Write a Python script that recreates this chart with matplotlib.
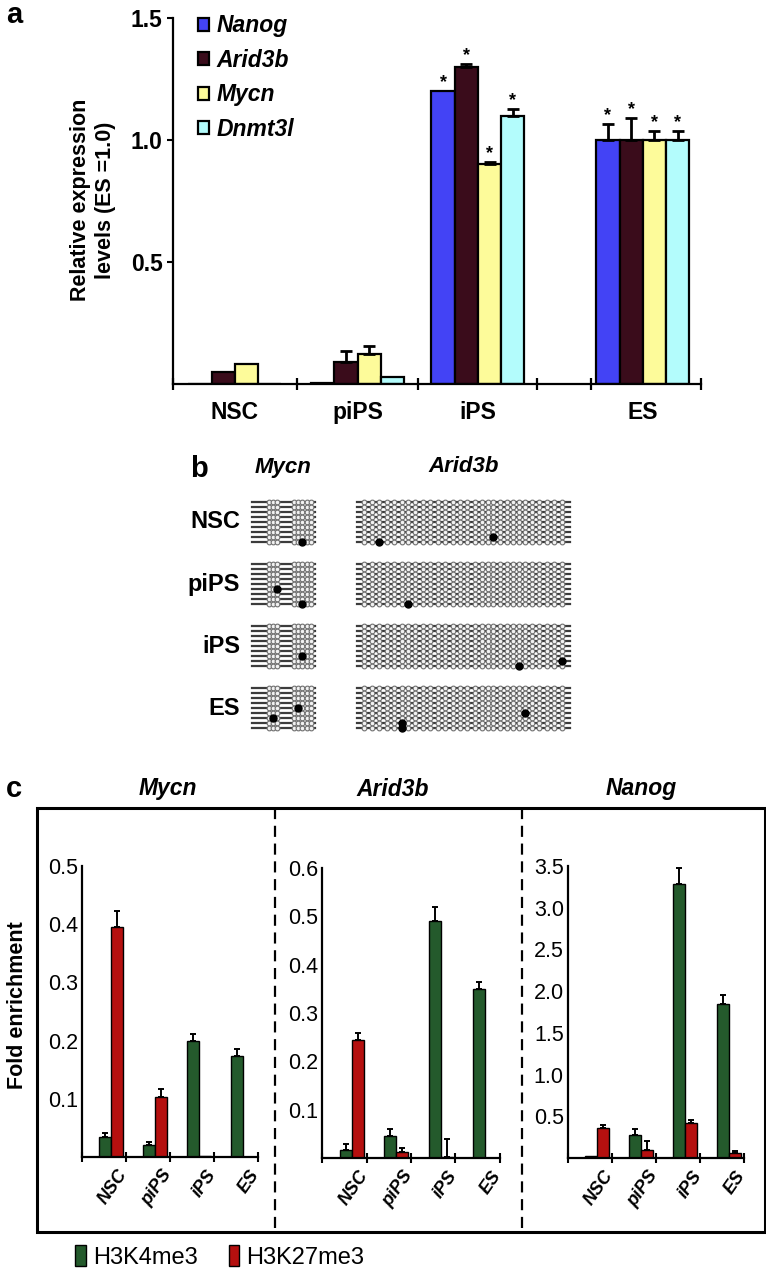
import matplotlib
matplotlib.use('Agg')
import matplotlib.pyplot as plt
from matplotlib.patches import Patch, Rectangle
from matplotlib.lines import Line2D
import numpy as np

plt.rcParams['font.family'] = ['Liberation Sans', 'DejaVu Sans']

W, H = 766, 1271

# ---------------- panel a: relative expression ----------------
cells = ['NSC', 'piPS', 'iPS', 'ES']
genes_a = ['Nanog', 'Arid3b', 'Mycn', 'Dnmt3l']
nanog_expr = [0.0, 0.005, 1.2, 1.0]
arid3b_expr = [0.05, 0.09, 1.3, 1.0]
mycn_expr = [0.08, 0.125, 0.9, 1.0]
dnmt3l_expr = [0.0, 0.03, 1.1, 1.0]
nanog_err = [0, 0, 0, 0.065]
arid3b_err = [0, 0.047, 0.012, 0.09]
mycn_err = [0, 0.032, 0.008, 0.035]
dnmt3l_err = [0, 0, 0.027, 0.035]
significant = [False, False, True, True]
colors_a = ['#4343f5', '#3a0c1b', '#fdfb9a', '#b3fcfc']

# ---------------- panel b: bisulfite clones ----------------
n_clones = 9
mycn_cpg = [17, 21, 25, 42, 46, 50, 55, 59]
mycn_len = 63
arid3b_cpg = [7, 15, 22, 30, 37, 45, 51, 58, 66, 73, 81, 88, 96, 103, 110,
              118, 125, 131, 136, 143, 150, 156, 162, 168, 175, 182, 190, 197, 205]
arid3b_len = 213
# methylated sites per cell type: (clone row, CpG index)
mycn_meth = [[(8, 5)], [(5, 2), (8, 5)], [(6, 5)], [(6, 1), (4, 4)]]
arid3b_meth = [[(8, 2), (7, 18)], [(8, 6)], [(8, 22), (7, 28)], [(7, 5), (8, 5), (5, 23)]]

# ---------------- panel c: ChIP fold enrichment ----------------
genes_c = ['Mycn', 'Arid3b', 'Nanog']
mycn_k4 = [0.035, 0.02, 0.2, 0.173]
mycn_k4_err = [0.006, 0.006, 0.011, 0.013]
mycn_k27 = [0.395, 0.103, 0.002, 0.0]
mycn_k27_err = [0.027, 0.013, 0, 0]
arid3b_k4 = [0.016, 0.045, 0.49, 0.35]
arid3b_k4_err = [0.014, 0.014, 0.03, 0.015]
arid3b_k27 = [0.244, 0.013, 0.003, 0.0]
arid3b_k27_err = [0.014, 0.007, 0.037, 0]
nanog_k4 = [0.02, 0.27, 3.29, 1.85]
nanog_k4_err = [0.0, 0.08, 0.19, 0.1]
nanog_k27 = [0.354, 0.1, 0.42, 0.06]
nanog_k27_err = [0.04, 0.1, 0.04, 0.02]
yticks_c = [[0.1, 0.2, 0.3, 0.4, 0.5],
            [0.1, 0.2, 0.3, 0.4, 0.5, 0.6],
            [0.5, 1.0, 1.5, 2.0, 2.5, 3.0, 3.5]]
ytop_c = [0.5, 0.6, 3.5]
marks = ['H3K4me3', 'H3K27me3']
colors_c = ['#245a2c', '#b5100f']


def px_box(left, top, right, bottom):
    return [left / W, 1 - bottom / H, (right - left) / W, (bottom - top) / H]


def fx(px):
    return px / W


def fy(py):
    return 1 - py / H


fig = plt.figure(figsize=(W / 100, H / 100), dpi=100)

# ===== panel a =====
ax = fig.add_axes(px_box(173, 18, 701, 384))
centers = np.array([0.5, 1.49, 2.46, 3.79])
width = 0.1875
series = [nanog_expr, arid3b_expr, mycn_expr, dnmt3l_expr]
errs = [nanog_err, arid3b_err, mycn_err, dnmt3l_err]
for i, (vals, err, col, name) in enumerate(zip(series, errs, colors_a, genes_a)):
    x = centers + (i - 1.5) * width
    vals = np.array(vals)
    e = np.array(err, dtype=float)
    ax.bar(x, vals, width, color=col, edgecolor='black', linewidth=1.6, label=name, zorder=2)
    m = e > 0
    ax.errorbar(x[m], vals[m], yerr=[np.zeros(m.sum()), e[m]], fmt='none', ecolor='black',
                elinewidth=2, capsize=4, capthick=2, zorder=3)
    for xi, v, ei, s in zip(x, vals, e, significant):
        if s:
            ax.annotate('*', (xi, v + ei), xytext=(0, 0), textcoords='offset points',
                        ha='center', va='bottom', fontsize=13, fontweight='bold')

ax.set_xlim(0, 4.26)
ax.set_ylim(0, 1.5)
ax.spines['top'].set_visible(False)
ax.spines['right'].set_visible(False)
ax.spines['left'].set_linewidth(1.6)
ax.spines['bottom'].set_linewidth(1.6)
ax.set_yticks([0.5, 1.0, 1.5])
ax.set_yticklabels(['0.5', '1.0', '1.5'], fontsize=16.5, fontweight='bold')
ax.tick_params(axis='y', direction='out', length=4, width=1.5)
ax.set_xticks([0, 1, 1.98, 2.94, 3.37, 4.26])
ax.set_xticklabels([])
ax.tick_params(axis='x', which='major', direction='inout', length=9, width=1.6)
ax.set_xticks(centers, minor=True)
ax.set_xticklabels(cells, minor=True, fontsize=16.5, fontweight='bold')
ax.tick_params(axis='x', which='minor', length=0, pad=12)
ax.legend(loc='upper left', bbox_to_anchor=(0.03, 1.035), frameon=False,
          prop=dict(weight='bold', style='italic', size=16.5), handlelength=0.5,
          handleheight=0.5, handletextpad=0.3, labelspacing=0.5, borderaxespad=0)
fig.text(fx(93), fy(200), 'Relative expression\nlevels (ES =1.0)', rotation=90,
         ha='center', va='center', fontsize=15.5, fontweight='bold', linespacing=1.2)
fig.text(fx(6), fy(1), 'a', fontsize=21, fontweight='bold', va='top')

# ===== panel b =====
axb = fig.add_axes(px_box(180, 455, 600, 740))
axb.set_xlim(-72, 348)
axb.set_ylim(285, 0)
axb.axis('off')
arid3b_start = 105
block_top, block_step, row_step = 47, 62, 5
for ci, cell in enumerate(cells):
    y0 = block_top + ci * block_step
    for start, length, cpgs, meth in [(0, mycn_len, mycn_cpg, mycn_meth[ci]),
                                      (arid3b_start, arid3b_len, arid3b_cpg, arid3b_meth[ci])]:
        cx = start + np.array(cpgs)
        for r in range(n_clones):
            y = y0 + r * row_step
            axb.plot([start, start + length], [y, y], color='#3c3c3c', lw=1.6, zorder=1)
            axb.plot(cx, [y] * len(cx), 'o', ms=3.4, mfc='#f2f2f2', mec='#707070', mew=0.8, zorder=2)
        for r, k in meth:
            axb.plot(start + cpgs[k], y0 + r * row_step, 'o', ms=5, color='black', zorder=3)
    axb.text(-12, y0 + 4 * row_step, cell, ha='right', va='center', fontsize=17, fontweight='bold')
axb.text(mycn_len / 2, 12, 'Mycn', ha='center', va='center', fontsize=16,
         fontweight='bold', style='italic')
axb.text(arid3b_start + arid3b_len / 2, 12, 'Arid3b', ha='center', va='center',
         fontsize=16, fontweight='bold', style='italic')
axb.text(-62, 14, 'b', ha='left', va='center', fontsize=21, fontweight='bold')

# ===== panel c =====
box_px = [(82, 866, 258, 1157), (322, 868, 500, 1158), (568, 866, 744, 1158)]
title_x = [168, 393, 641]
data_c = [(mycn_k4, mycn_k4_err, mycn_k27, mycn_k27_err),
          (arid3b_k4, arid3b_k4_err, arid3b_k27, arid3b_k27_err),
          (nanog_k4, nanog_k4_err, nanog_k27, nanog_k27_err)]
bw = 0.27
for gi, (k4, k4e, k27, k27e) in enumerate(data_c):
    axc = fig.add_axes(px_box(*box_px[gi]))
    g = np.arange(len(cells))
    for off, vals, err, col in [(0.53, k4, k4e, colors_c[0]), (0.8, k27, k27e, colors_c[1])]:
        xs = g + off
        vals = np.array(vals)
        e = np.array(err, dtype=float)
        axc.bar(xs, vals, bw, color=col, edgecolor='black', linewidth=1.0, zorder=2)
        m = e > 0
        axc.errorbar(xs[m], vals[m], yerr=[np.zeros(m.sum()), e[m]], fmt='none',
                     ecolor='black', elinewidth=1.4, capsize=2.5, capthick=1.4, zorder=3)
    axc.set_xlim(0, 4)
    axc.set_ylim(0, ytop_c[gi])
    axc.spines['top'].set_visible(False)
    axc.spines['right'].set_visible(False)
    axc.spines['left'].set_linewidth(1.6)
    axc.spines['bottom'].set_linewidth(1.6)
    axc.set_yticks(yticks_c[gi])
    axc.set_yticklabels(['%.1f' % t for t in yticks_c[gi]], fontsize=15.5)
    axc.tick_params(axis='y', length=0, pad=3)
    axc.set_xticks(np.arange(5))
    axc.set_xticklabels([])
    axc.tick_params(axis='x', which='major', direction='inout', length=7, width=1.5)
    axc.set_xticks(g + 0.8, minor=True)
    axc.set_xticklabels(cells, minor=True, rotation=55, ha='right', rotation_mode='anchor',
                        fontsize=13, fontweight='bold', style='italic')
    axc.tick_params(axis='x', which='minor', length=0, pad=7)
    fig.text(fx(title_x[gi]), fy(789), genes_c[gi], ha='center', va='center',
             fontsize=16.5, fontweight='bold', style='italic')

fig.add_artist(Rectangle((fx(37), fy(1232)), fx(765) - fx(37), fy(808) - fy(1232),
                         transform=fig.transFigure, fill=False, lw=2.2, ec='black'))
for xd in [275, 522]:
    fig.add_artist(Line2D([fx(xd), fx(xd)], [fy(808), fy(1232)], transform=fig.transFigure,
                          color='black', lw=1.6, linestyle=(0, (5, 3))))
fig.text(fx(18), fy(1005), 'Fold enrichment', rotation=90, ha='center', va='center',
         fontsize=15.5, fontweight='bold')
fig.text(fx(6), fy(789), 'c', fontsize=21, fontweight='bold', va='center')

handles = [Patch(facecolor=c, edgecolor='black', label=l) for c, l in zip(colors_c, marks)]
fig.legend(handles=handles, loc='center left', bbox_to_anchor=(fx(66), fy(1257)), ncol=2,
           frameon=False, fontsize=17, handlelength=0.45, handleheight=1.0,
           handletextpad=0.3, columnspacing=1.3, borderaxespad=0)

fig.savefig('out.png', dpi=100)
